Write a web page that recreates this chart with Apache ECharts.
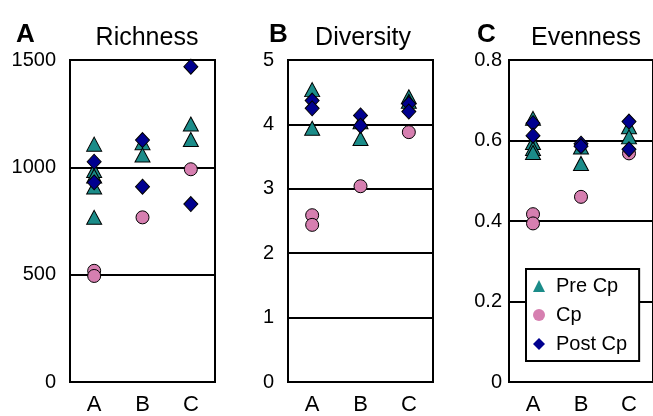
<!DOCTYPE html>
<html>
<head>
<meta charset="utf-8">
<script src="https://cdn.jsdelivr.net/npm/echarts@6/dist/echarts.min.js"></script>
<style>html,body{margin:0;padding:0;background:#fff}#c{width:653px;height:416px}</style>
</head>
<body>
<div id="c"></div>
<script>
const categories = ['A', 'B', 'C'];
const seriesNames = ['Pre Cp', 'Cp', 'Post Cp'];
const panelTitles = ['Richness', 'Diversity', 'Evenness'];
const panelLetters = ['A', 'B', 'C'];

// Richness
const richnessPre  = [['A',1108],['A',985],['A',960],['A',908],['A',767],['B',1115],['B',1057],['C',1202],['C',1130]];
const richnessCp   = [['A',518],['A',494],['B',767],['C',991]];
const richnessPost = [['A',1026],['A',930],['B',1127],['B',910],['C',1469],['C',829]];
// Diversity
const diversityPre  = [['A',4.54],['A',3.94],['B',4.04],['B',3.78],['C',4.43],['C',4.36]];
const diversityCp   = [['A',2.59],['A',2.44],['B',3.04],['C',3.88]];
const diversityPost = [['A',4.37],['A',4.25],['B',4.14],['B',3.98],['C',4.32],['C',4.20]];
// Evenness
const evennessPre  = [['A',0.655],['A',0.595],['A',0.58],['A',0.570],['B',0.584],['B',0.543],['C',0.634],['C',0.609]];
const evennessCp   = [['A',0.417],['A',0.394],['B',0.460],['C',0.568]];
const evennessPost = [['A',0.643],['A',0.612],['B',0.592],['B',0.586],['C',0.647],['C',0.578]];

const yMax = [1500, 5, 0.8];
const yInterval = [500, 1, 0.2];

const panels = [
  [richnessPre, richnessCp, richnessPost],
  [diversityPre, diversityCp, diversityPost],
  [evennessPre, evennessCp, evennessPost]
];

const FONT = 'Liberation Sans, Arial, sans-serif';
const colors = ['#1b8c89', '#d67fb0', '#00008f'];
const symbols = ['triangle', 'circle', 'diamond'];
const sizes = [[15, 14], 13, [14, 15]];

const gridLefts = [70, 288, 509];
const labelMargins = [14, 14, 7];

const chart = echarts.init(document.getElementById('c'));

const grids = gridLefts.map(l => ({
  left: l, top: 60, width: 145, height: 322,
  show: true, borderColor: '#000', borderWidth: 2, backgroundColor: 'transparent'
}));

const xAxes = gridLefts.map((l, i) => ({
  type: 'category', gridIndex: i, data: categories, boundaryGap: true,
  axisLine: { show: true, lineStyle: { color: '#000', width: 2 } },
  axisTick: { show: false },
  axisLabel: { color: '#000', fontSize: 22, fontFamily: FONT, margin: 12 },
  splitLine: { show: false }
}));

const yAxes = gridLefts.map((l, i) => ({
  type: 'value', gridIndex: i, min: 0, max: yMax[i], interval: yInterval[i],
  axisLine: { show: true, lineStyle: { color: '#000', width: 2 } },
  axisTick: { show: false },
  axisLabel: { color: '#000', fontSize: 20, fontFamily: FONT, margin: labelMargins[i],
    formatter: v => String(v) },
  splitLine: { show: true, lineStyle: { color: '#000', width: 2 } }
}));

const series = [];
panels.forEach((p, gi) => {
  p.forEach((data, si) => {
    series.push({
      type: 'scatter', name: seriesNames[si], xAxisIndex: gi, yAxisIndex: gi,
      data: data, symbol: symbols[si], symbolSize: sizes[si],
      itemStyle: { color: colors[si], borderColor: '#000', borderWidth: 1, opacity: 1 },
      z: 3 + si
    });
  });
});

const titleCenters = [142, 358, 581];
const letterLefts = [11, 264, 472];
const titles = [];
panelTitles.forEach((t, i) => {
  titles.push({ text: t, left: titleCenters[i], top: 21, textAlign: 'center',
    textStyle: { fontSize: 25, fontWeight: 'normal', color: '#000', fontFamily: FONT } });
  titles.push({ text: panelLetters[i], left: letterLefts[i], top: 17,
    textStyle: { fontSize: 26, fontWeight: 'bold', color: '#000', fontFamily: FONT } });
});

chart.setOption({
  animation: false,
  title: titles,
  grid: grids,
  xAxis: xAxes,
  yAxis: yAxes,
  legend: {
    data: seriesNames, orient: 'vertical', left: 526, top: 269,
    backgroundColor: '#fff', borderColor: '#000', borderWidth: 2,
    padding: [7, 12, 7, 7], itemGap: 9, itemWidth: 12, itemHeight: 12,
    itemStyle: { borderWidth: 0 },
    textStyle: { fontSize: 20, fontFamily: FONT, color: '#000', lineHeight: 20, padding: [0, 0, 0, 6] },
    selectedMode: false
  },
  series: series
});
</script>
</body>
</html>
